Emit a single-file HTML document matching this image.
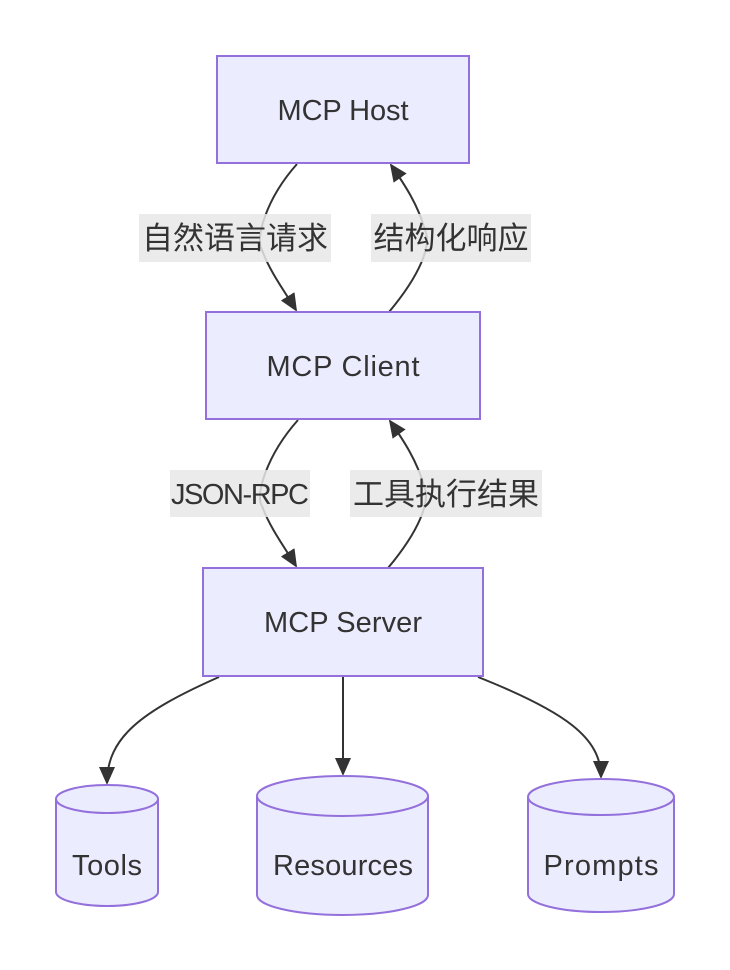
<!DOCTYPE html>
<html><head><meta charset="utf-8"><style>
html,body{margin:0;padding:0;background:#fff;width:730px;height:970px;overflow:hidden}
svg{display:block}
text{font-family:"Liberation Sans","Noto Sans CJK SC",sans-serif;fill:#333;font-size:29px}
text.c{font-size:31px}
</style></head><body>
<svg width="730" height="970" viewBox="0 0 730 970" xmlns="http://www.w3.org/2000/svg">
<defs>
<marker id="a" markerWidth="18" markerHeight="16" refX="16" refY="8" orient="auto" markerUnits="userSpaceOnUse">
<path d="M0,0 L18,8 L0,16 Z" fill="#333"/>
</marker>
</defs>
<g fill="none" stroke="#333" stroke-width="2">
<path d="M297,164 C265,200 255,240 262,250 C270,272 285,292 296,310" marker-end="url(#a)"/>
<path d="M389,312 C420,275 432,245 425,230 C418,205 405,185 391,165" marker-end="url(#a)"/>
<path d="M298,420 C266,456 255,496 262,506 C270,528 285,548 296,566" marker-end="url(#a)"/>
<path d="M388,568 C419,531 431,501 424,486 C417,461 404,441 390,421" marker-end="url(#a)"/>
<path d="M219,677 C140,712 107,738 107,783" marker-end="url(#a)"/>
<path d="M343,677 L343,774" marker-end="url(#a)"/>
<path d="M478,677 C566,712 601,738 601,777" marker-end="url(#a)"/>
</g>
<g fill="rgba(232,232,232,0.85)">
<rect x="139" y="214" width="192" height="48"/>
<rect x="371" y="214" width="160" height="48"/>
<rect x="170" y="470" width="140" height="47"/>
<rect x="350" y="470" width="192" height="47"/>
</g>
<text class="c" x="235" y="249" text-anchor="middle">自然语言请求</text>
<text class="c" x="451" y="249" text-anchor="middle">结构化响应</text>
<text x="240" y="504" text-anchor="middle" textLength="138">JSON-RPC</text>
<text class="c" x="446" y="505" text-anchor="middle">工具执行结果</text>
<g fill="#ececff" stroke="#9370db" stroke-width="2">
<rect x="217" y="56" width="252" height="107"/>
<rect x="206" y="312" width="274" height="107"/>
<rect x="203" y="568" width="280" height="108"/>
<path d="M56,799 A51,14 0 0 1 158,799 L158,892 A51,14 0 0 1 56,892 Z"/>
<path d="M56,799 A51,14 0 0 0 158,799"/>
<path d="M257,796 A85.5,20 0 0 1 428,796 L428,895 A85.5,20 0 0 1 257,895 Z"/>
<path d="M257,796 A85.5,20 0 0 0 428,796"/>
<path d="M528,797 A73,18 0 0 1 674,797 L674,894 A73,18 0 0 1 528,894 Z"/>
<path d="M528,797 A73,18 0 0 0 674,797"/>
</g>
<text x="343" y="120" text-anchor="middle" textLength="131">MCP Host</text>
<text x="343" y="376" text-anchor="middle" textLength="153">MCP Client</text>
<text x="343" y="632" text-anchor="middle" textLength="158">MCP Server</text>
<text x="107" y="875" text-anchor="middle" textLength="70">Tools</text>
<text x="343" y="875" text-anchor="middle" textLength="140">Resources</text>
<text x="601" y="875" text-anchor="middle" textLength="115">Prompts</text>
</svg>
</body></html>
